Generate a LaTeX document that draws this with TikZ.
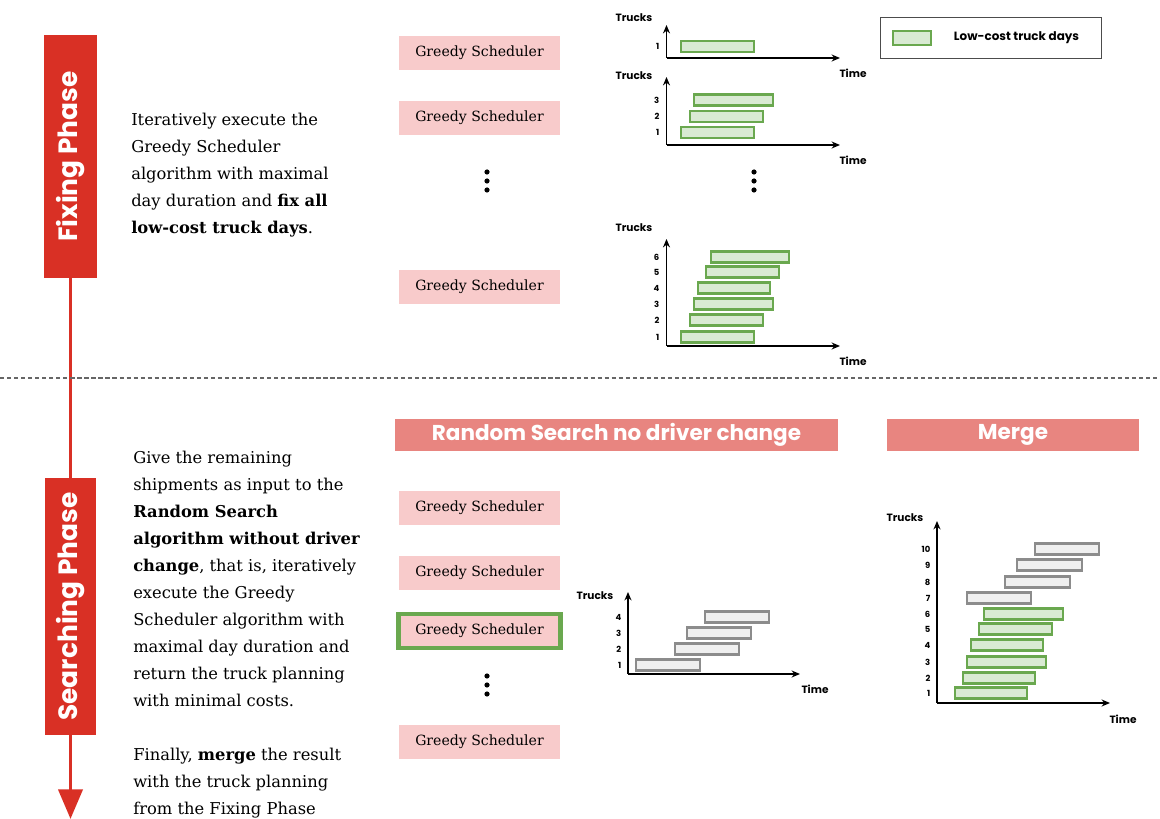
\documentclass[tikz,border=0pt]{standalone}
\usepackage{fontspec}
\setmainfont{DejaVu Serif}
\newfontfamily\labelfont{Poppins}
\usetikzlibrary{arrows.meta, positioning}
\definecolor{phasered}{RGB}{217,48,37}
\definecolor{headred}{RGB}{232,133,128}
\definecolor{gspink}{RGB}{248,203,203}
\definecolor{bargreen}{RGB}{106,168,79}
\definecolor{barfill}{RGB}{217,234,211}
\definecolor{bargray}{RGB}{140,140,140}
\definecolor{grayfill}{RGB}{239,239,239}
\tikzstyle{phase} = [rectangle, fill=phasered, text=white, rotate=90, font=\labelfont\bfseries\fontsize{18.8}{19}\selectfont]
\tikzstyle{header} = [rectangle, fill=headred, text=white, minimum height=0.8cm, font=\labelfont\bfseries\fontsize{15.3}{15}\selectfont]
\tikzstyle{gsbox} = [rectangle, fill=gspink, minimum width=4.03cm, minimum height=0.85cm, font=\fontsize{10}{12}\selectfont]
\tikzstyle{desc} = [anchor=north west, inner sep=0pt, align=left, font=\fontsize{11.6}{19.2}\selectfont]
\tikzstyle{axis} = [line width=0.9pt, -{Stealth[length=6pt, width=5pt]}]
\tikzstyle{axislabel} = [font=\labelfont\bfseries\fontsize{7.5}{9}\selectfont]
\tikzstyle{tick} = [anchor=east, inner sep=1pt, font=\labelfont\bfseries\fontsize{6}{7}\selectfont]
\tikzstyle{greenbar} = [draw=bargreen, fill=barfill, line width=1.5pt]
\tikzstyle{graybar} = [draw=bargray, fill=grayfill, line width=1.5pt]
\tikzstyle{timeline} = [draw=phasered, line width=2.8pt]

\begin{document}
\begin{tikzpicture}[x=0.025cm, y=-0.025cm]
    \useasboundingbox (0,0) rectangle (1160,819);

    % phases and time line
    \node (fixing) [phase, minimum width=6.08cm, minimum height=1.33cm] at (70.5,156.5) {Fixing Phase};
    \node (searching) [phase, minimum width=6.43cm, minimum height=1.28cm] at (70.5,606.5) {Searching Phase};
    \coordinate (tip) at (70.5,819);
    \draw[timeline] (fixing) -- (searching);
    \draw[timeline, -{Triangle[width=17pt, length=21pt]}] (searching) -- (tip);

    \coordinate (dashL) at (0,378);
    \coordinate (dashR) at (1160,378);
    \draw[gray!80!black, line width=0.8pt, dash pattern=on 3pt off 2pt] (dashL) -- (dashR);

    % descriptions
    \node (fixtext) [desc] at (131,113) {Iteratively execute the\\ Greedy Scheduler\\ algorithm with maximal\\ day duration and \textbf{fix all}\\ \textbf{low-cost truck days}.};
    \node (searchtext) [desc] at (133,451) {Give the remaining\\ shipments as input to the\\ \textbf{Random Search}\\ \textbf{algorithm without driver}\\ \textbf{change}, that is, iteratively\\ execute the Greedy\\ Scheduler algorithm with\\ maximal day duration and\\ return the truck planning\\ with minimal costs.\\[19.2pt] Finally, \textbf{merge} the result\\ with the truck planning\\ from the Fixing Phase};

    % greedy scheduler runs
    \node (gs1) [gsbox] at (479.5,53) {Greedy Scheduler};
    \node (gs2) [gsbox] at (479.5,118) {Greedy Scheduler};
    \node (gs3) [gsbox] at (479.5,287) {Greedy Scheduler};
    \node (gs4) [gsbox] at (479.5,508) {Greedy Scheduler};
    \node (gs5) [gsbox] at (479.5,573) {Greedy Scheduler};
    \node (gs6) [gsbox, draw=bargreen, line width=3.5pt] at (479.5,631) {Greedy Scheduler};
    \node (gs7) [gsbox] at (479.5,742) {Greedy Scheduler};
    \foreach \x/\y in {487/181, 754/181, 487/685}
        \foreach \d in {-9,0,9}
            \fill (\x,\y+\d) circle (2.6);

    \node (random) [header, minimum width=11.08cm] at (616.5,435) {Random Search no driver change};
    \node (merge) [header, minimum width=6.3cm] at (1013,435) {Merge};

    % legend
    \node (legend) [draw=black!70, line width=0.7pt, minimum width=5.5cm, minimum height=1cm] at (991,38) {};
    \draw[greenbar] (893,31) rectangle (931,45);
    \node (legendtext) [anchor=west, font=\labelfont\bfseries\fontsize{8.5}{10}\selectfont] at (949,38) {Low-cost truck days};

    % chart 1
    \coordinate (o1) at (666.5,58);
    \coordinate (y1) at (666.5,25);
    \coordinate (x1) at (840,58);
    \draw[axis] (o1) -- (y1);
    \draw[axis] (o1) -- (x1);
    \node (trucks1) [axislabel] at (634,18) {Trucks};
    \node (time1) [axislabel] at (853,73) {Time};
    \node [tick] at (661,46.5) {1};
    \draw[greenbar] (681,41) rectangle (754,52);

    % chart 2
    \coordinate (o2) at (666.5,145);
    \coordinate (y2) at (666.5,77);
    \coordinate (x2) at (840,145);
    \draw[axis] (o2) -- (y2);
    \draw[axis] (o2) -- (x2);
    \node (trucks2) [axislabel] at (634,76) {Trucks};
    \node (time2) [axislabel] at (853,160) {Time};
    \foreach \a/\b/\r/\n in {681/754/132.5/1, 690/763/116.5/2, 694/773/100/3} {
        \node [tick] at (661,\r) {\n};
        \draw[greenbar] (\a,\r-5.5) rectangle (\b,\r+5.5);
    }

    % chart 3
    \coordinate (o3) at (666.5,346);
    \coordinate (y3) at (666.5,239);
    \coordinate (x3) at (840,346);
    \draw[axis] (o3) -- (y3);
    \draw[axis] (o3) -- (x3);
    \node (trucks3) [axislabel] at (634,228) {Trucks};
    \node (time3) [axislabel] at (853,361) {Time};
    \foreach \a/\b/\r/\n in {681/754/337/1, 690/763/320/2, 694/773/304/3, 698/770/288/4, 706/779/272/5, 711/789/257/6} {
        \node [tick] at (661,\r) {\n};
        \draw[greenbar] (\a,\r-5.5) rectangle (\b,\r+5.5);
    }

    % chart of the search
    \coordinate (o4) at (628,674);
    \coordinate (y4) at (628,592);
    \coordinate (x4) at (800,674);
    \draw[axis] (o4) -- (y4);
    \draw[axis] (o4) -- (x4);
    \node (trucks4) [axislabel] at (595,596) {Trucks};
    \node (time4) [axislabel] at (815,689) {Time};
    \foreach \a/\b/\r/\n in {636/700/665/1, 675/739/649/2, 687/751/633/3, 705/769/617/4} {
        \node [tick] at (623,\r) {\n};
        \draw[graybar] (\a,\r-5.5) rectangle (\b,\r+5.5);
    }

    % merged chart
    \coordinate (o5) at (937,703);
    \coordinate (y5) at (937,521);
    \coordinate (x5) at (1110,703);
    \draw[axis] (o5) -- (y5);
    \draw[axis] (o5) -- (x5);
    \node (trucks5) [axislabel] at (905,518) {Trucks};
    \node (time5) [axislabel] at (1123,719) {Time};
    \foreach \a/\b/\r/\n in {955/1027/693/1, 963/1035/678/2, 967/1046/662/3, 971/1043/645/4, 979/1052/629/5, 984/1063/614/6} {
        \node [tick] at (932,\r) {\n};
        \draw[greenbar] (\a,\r-5.5) rectangle (\b,\r+5.5);
    }
    \foreach \a/\b/\r/\n in {967/1031/598/7, 1005/1070/582/8, 1017/1082/565/9, 1035/1099/549/10} {
        \node [tick] at (932,\r) {\n};
        \draw[graybar] (\a,\r-5.5) rectangle (\b,\r+5.5);
    }
  \end{tikzpicture}
\end{document}
